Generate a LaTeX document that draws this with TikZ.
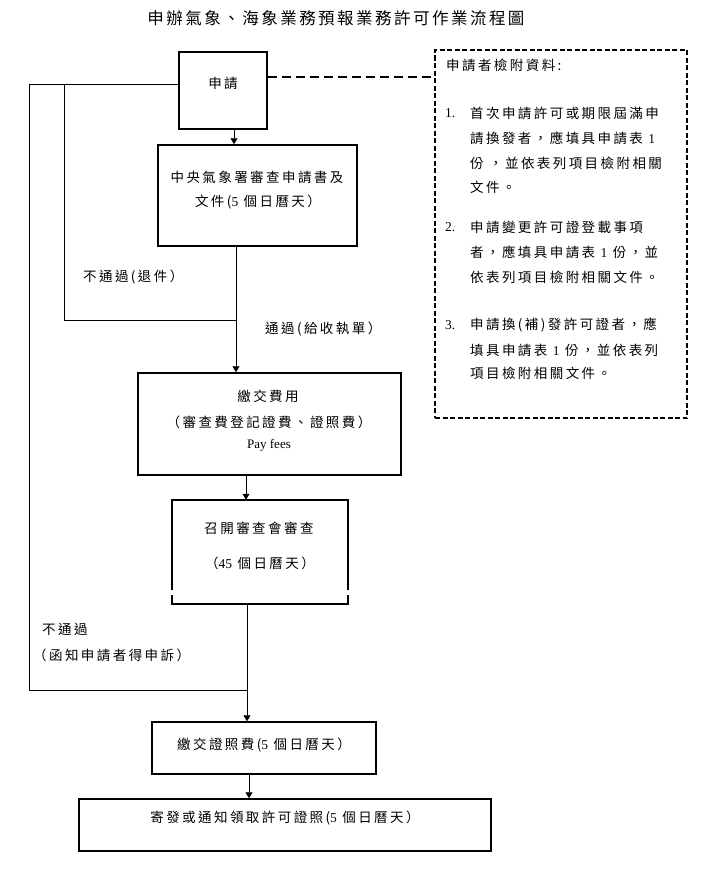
\documentclass[tikz,border=0pt]{standalone}
\usepackage{fontspec}
\setmainfont{Liberation Serif}
\newfontfamily\cjk[LetterSpace=18]{Noto Sans CJK TC}
\newfontfamily\cjkt[LetterSpace=15]{Noto Sans CJK TC}
\newcommand\dg[1]{{\rmfamily #1}}
\usetikzlibrary{arrows.meta,calc}
\tikzset{
  boxn/.style={draw=black, line width=1.5pt, minimum width=#1, inner sep=0pt},
  plainbox/.style={inner sep=0pt},
  txt/.style={inner sep=0pt, font=\fontsize{13.5}{16}\cjk},
  conn/.style={draw=black, line width=0.8pt},
  arr/.style={conn, -{Triangle[length=6pt,width=7pt]}},
  dashconn/.style={draw=black, line width=2.2pt, dash pattern=on 9pt off 5pt},
  dashbox/.style={draw=black, line width=1.6pt, dash pattern=on 5pt off 2.5pt, inner sep=0pt},
}
\begin{document}
\begin{tikzpicture}[x=1pt,y=-1pt]
\useasboundingbox[fill=white] (0,0) rectangle (712,886);

% title
\node[inner sep=0pt, font=\fontsize{16.5}{19}\cjkt] (title) at (336,18) {申辦氣象、海象業務預報業務許可作業流程圖};

% boxes
\node[boxn=88pt, minimum height=77pt] (b1) at (223,90.5) {};
\node[boxn=199pt, minimum height=101pt] (b2) at (257.5,195.5) {};
\node[boxn=263pt, minimum height=102pt] (b3) at (269.5,424) {};
\node[plainbox, minimum width=176pt, minimum height=104pt] (b4) at (260,552) {};
\node[boxn=224pt, minimum height=52pt] (b5) at (264,748) {};
\node[boxn=412pt, minimum height=52pt] (b6) at (285,825) {};
\node[dashbox, minimum width=252pt, minimum height=368pt] (rb) at (561,234) {};

% box 4 border with small gaps near the bottom
\draw[line width=1.5pt] ([yshift=14pt]b4.south west) -- (b4.north west) -- (b4.north east) -- ([yshift=14pt]b4.south east);
\draw[line width=1.5pt] ([yshift=9pt]b4.south west) -- (b4.south west) -- (b4.south east) -- ([yshift=9pt]b4.south east);

% texts in boxes
\node[txt] (t1) at (223,83) {申請};
\node[txt] (t2a) at (257,177) {中央氣象署審查申請書及};
\node[txt] (t2b) at (258,202) {文件(\dg{5} 個日曆天）};
\node[txt] (t3a) at (268,396) {繳交費用};
\node[txt] (t3b) at (269,422) {（審查費登記證費、證照費）};
\node[inner sep=0pt, font=\fontsize{13}{15}\selectfont] (t3c) at (269,445) {Pay fees};
\node[txt] (t4a) at (259,528) {召開審查會審查};
\node[txt] (t4b) at (260,563) {（\dg{45} 個日曆天）};
\node[txt] (t5) at (264,745) {繳交證照費(\dg{5} 個日曆天）};
\node[txt] (t6) at (285,818) {寄發或通知領取許可證照(\dg{5} 個日曆天）};

% right box texts
\node[txt, anchor=west] (r0) at (446,65) {申請者檢附資料:};
\node[txt, anchor=west] (n1) at (445,113) {\dg{1.}};
\node[txt, anchor=west] (r11) at (470,113) {首次申請許可或期限屆滿申};
\node[txt, anchor=west] (r12) at (470,138) {請換發者，應填具申請表 \dg{1}};
\node[txt, anchor=west] (r13) at (470,163) {份 ，並依表列項目檢附相關};
\node[txt, anchor=west] (r14) at (470,187) {文件。};
\node[txt, anchor=west] (n2) at (445,227) {\dg{2.}};
\node[txt, anchor=west] (r21) at (470,227) {申請變更許可證登載事項};
\node[txt, anchor=west] (r22) at (470,252) {者，應填具申請表 \dg{1} 份，並};
\node[txt, anchor=west] (r23) at (470,277) {依表列項目檢附相關文件。};
\node[txt, anchor=west] (n3) at (445,325) {\dg{3.}};
\node[txt, anchor=west] (r31) at (470,325) {申請換(補)發許可證者，應};
\node[txt, anchor=west] (r32) at (470,350) {填具申請表 \dg{1} 份，並依表列};
\node[txt, anchor=west] (r33) at (470,373) {項目檢附相關文件。};

% edge labels
\node[txt, anchor=west] (l1) at (83,277) {不通過(退件）};
\node[txt, anchor=west] (l2) at (265,329) {通過(給收執單）};
\node[txt, anchor=west] (l3) at (42,629) {不通過};
\node[txt, anchor=west] (l4) at (33,655) {（函知申請者得申訴）};

% junction coordinates
\coordinate (jA) at (236,320);
\coordinate (jB) at (64,84);
\coordinate (jC) at (29,84);
\coordinate (jD) at (29,690);
\coordinate (jE) at (247,690);
\coordinate (b1w) at (b1.west |- jC);

% dashed link
\draw[dashconn] ([yshift=-26pt]b1.north east) coordinate (ds) -- (ds -| rb.west);

% main flow
\draw[arr] ([xshift=11pt]b1.south) coordinate (a1) -- (a1 |- b2.north);
\draw[conn] (jA |- b2.south) -- (jA);
\draw[arr] (jA) -- (jA |- b3.north);
\draw[arr] ([xshift=-23.5pt]b3.south) coordinate (a3) -- (a3 |- b4.north);
\draw[conn] (jE |- b4.south) -- (jE);
\draw[arr] (jE) -- (jE |- b5.north);
\draw[arr] ([xshift=-15pt]b5.south) coordinate (a5) -- (a5 |- b6.north);

% return paths
\draw[conn] (jA) -- (jA -| jB) -- (jB);
\draw[conn] (jD) -- (jC) -- (b1w);
\draw[conn] (jD) -- (jE);
\end{tikzpicture}
\end{document}
